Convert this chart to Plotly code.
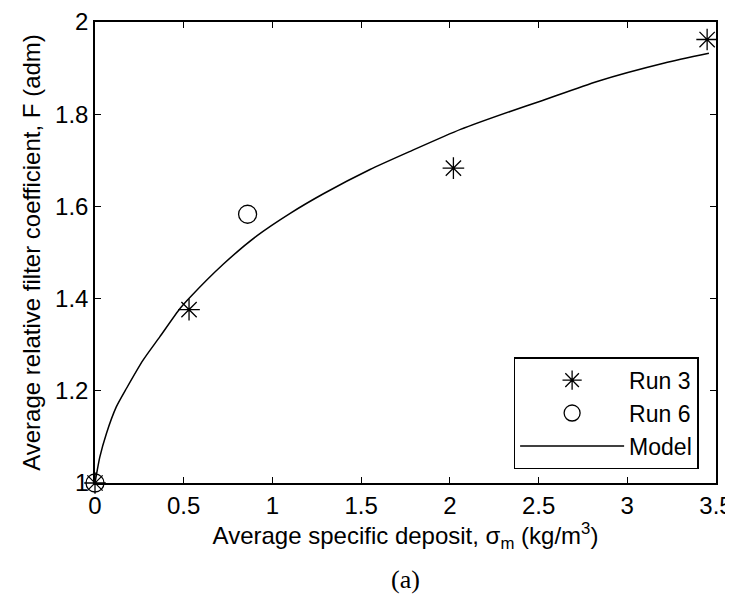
import plotly.graph_objects as go

# Data
run3_sigma = [0.0, 0.53, 2.02, 3.45]
run3_F = [1.0, 1.376, 1.683, 1.962]

run6_sigma = [0.0, 0.86]
run6_F = [1.0, 1.583]

model_sigma = [0.0, 0.027, 0.064, 0.12, 0.177, 0.27, 0.365, 0.478, 0.536, 0.724,
               0.912, 1.10, 1.29, 1.55, 1.78, 2.06, 2.34, 2.51, 2.83, 3.21, 3.46]
model_F = [1.0, 1.056, 1.107, 1.165, 1.205, 1.266, 1.317, 1.378, 1.403, 1.475,
           1.536, 1.585, 1.628, 1.680, 1.720, 1.767, 1.806, 1.828, 1.871, 1.911, 1.932]

x_ticks = [0, 0.5, 1, 1.5, 2, 2.5, 3, 3.5]
x_ticklabels = ["0", "0.5", "1", "1.5", "2", "2.5", "3", "3.5"]
y_ticks = [1, 1.2, 1.4, 1.6, 1.8, 2]
y_ticklabels = ["1", "1.2", "1.4", "1.6", "1.8", "2"]

FONT = "Liberation Sans"

fig = go.Figure()
fig.add_trace(go.Scatter(
    x=run3_sigma, y=run3_F, mode="markers", name="Run 3",
    marker=dict(symbol="asterisk-open", size=18, color="black",
                line=dict(color="black", width=1.3)),
    cliponaxis=False,
))
fig.add_trace(go.Scatter(
    x=run6_sigma, y=run6_F, mode="markers", name="Run 6",
    marker=dict(symbol="circle-open", size=18, color="black",
                line=dict(color="black", width=1.3)),
    cliponaxis=False,
))
fig.add_trace(go.Scatter(
    x=model_sigma, y=model_F, mode="lines", name="Model",
    line=dict(color="black", width=1.5, shape="spline", smoothing=0.6),
))

fig.update_layout(
    width=725, height=600,
    margin=dict(l=87, r=17, t=14, b=125, autoexpand=False),
    paper_bgcolor="white", plot_bgcolor="white",
    font=dict(family=FONT, size=24, color="black"),
    showlegend=True,
    legend=dict(
        x=0.972, y=0.03, xanchor="right", yanchor="bottom",
        bordercolor="black", borderwidth=1.5, bgcolor="white",
        font=dict(family=FONT, size=23, color="black"),
        itemwidth=104, tracegroupgap=0,
    ),
    xaxis=dict(
        range=[0, 3.5], tickvals=x_ticks, ticktext=x_ticklabels,
        ticks="inside", ticklen=6, tickwidth=1.2, tickcolor="black",
        showline=True, linecolor="black", linewidth=1.5, mirror="ticks",
        showgrid=False, zeroline=False, automargin=False,
        ticklabeloverflow="allow",
        tickfont=dict(family=FONT, size=24, color="black"),
        title=dict(text="Average specific deposit, σ<sub>m</sub> (kg/m<sup>3</sup>)",
                   font=dict(family=FONT, size=24, color="black"), standoff=10),
    ),
    yaxis=dict(
        range=[1, 2], tickvals=y_ticks, ticktext=y_ticklabels,
        ticks="inside", ticklen=6, tickwidth=1.2, tickcolor="black",
        showline=True, linecolor="black", linewidth=1.5, mirror="ticks",
        showgrid=False, zeroline=False, automargin=False,
        ticklabeloverflow="allow",
        tickfont=dict(family=FONT, size=24, color="black"),
        title=dict(text="Average relative filter coefficient, F (adm)",
                   font=dict(family=FONT, size=24, color="black"), standoff=8),
    ),
    annotations=[dict(
        text="(a)", xref="paper", yref="paper", x=0.5, y=-0.2104,
        xanchor="center", yanchor="middle", showarrow=False,
        font=dict(family="Liberation Serif", size=26, color="black"),
    )],
)

fig.write_html("out.html")
